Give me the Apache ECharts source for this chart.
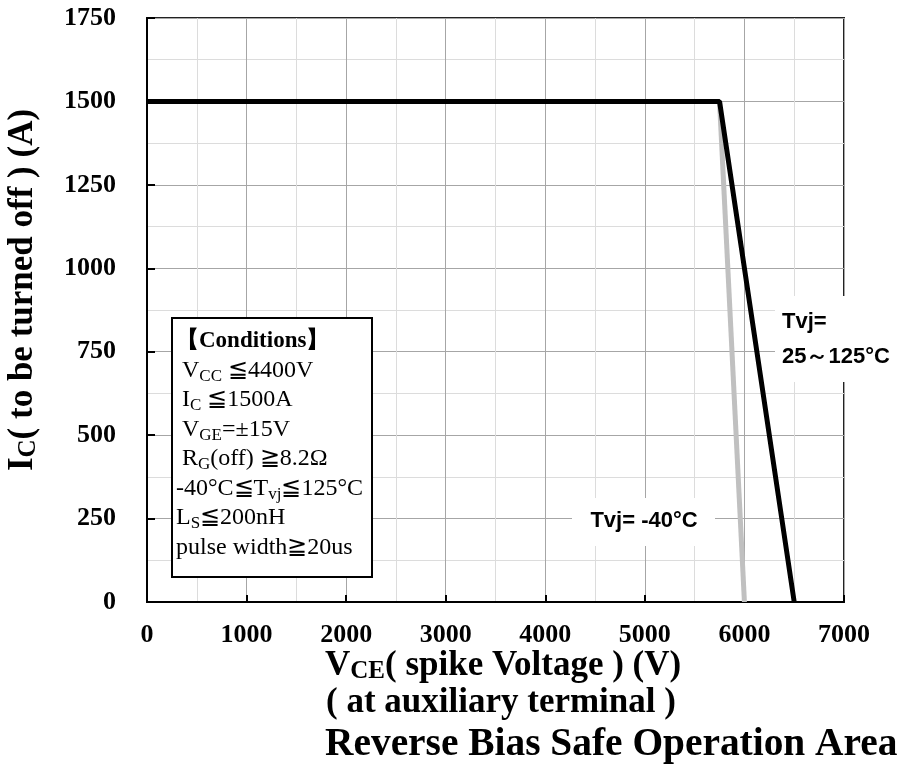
<!DOCTYPE html>
<html><head><meta charset="utf-8">
<script src="https://cdn.jsdelivr.net/npm/echarts@6/dist/echarts.min.js"></script>
<style>html,body{margin:0;padding:0;background:#fff}#c{width:899px;height:769px}</style>
</head><body><div id="c"></div>
<script>
// Data
const xTicks = [0,1000,2000,3000,4000,5000,6000,7000];
const yTicks = [0,250,500,750,1000,1250,1500,1750];
const hotV = [0, 5750, 6500];      // Tvj = 25~125 C
const hotI = [1500, 1500, 0];
const coldV = [5750, 6000];        // Tvj = -40 C
const coldI = [1500, 0];
const conditions = [
  '{b|【Conditions】}',
  ' V{s|CC} ≦4400V',
  ' I{s|C} ≦1500A',
  ' V{s|GE}=±15V',
  ' R{s|G}(off) ≧8.2Ω',
  '-40°C≦T{s|vj}≦125°C',
  'L{s|S}≦200nH',
  'pulse width≧20us'
];

const serif = '"Liberation Serif","Times New Roman",serif';
const sans = '"Liberation Sans",Arial,sans-serif';
const chart = echarts.init(document.getElementById('c'));
const L = 147, R = 844, T = 18, B = 602;

chart.setOption({
  animation: false,
  grid: {left: L, right: 899 - R, top: T, bottom: 769 - B, show: true, borderColor: '#222', borderWidth: 2, backgroundColor: '#fff'},
  xAxis: {
    type: 'value', min: xTicks[0], max: xTicks[xTicks.length-1], interval: 1000,
    axisLine: {show: true, lineStyle: {color: '#000', width: 2}},
    axisTick: {show: true, inside: true, length: 7, lineStyle: {color: '#000', width: 2}},
    minorTick: {show: false, splitNumber: 2},
    axisLabel: {color: '#000', fontFamily: serif, fontWeight: 'bold', fontSize: 26, margin: 20, formatter: v => String(v)},
    splitLine: {show: true, lineStyle: {color: '#a6a6a6', width: 1}},
    minorSplitLine: {show: true, lineStyle: {color: '#dcdcdc', width: 1}}
  },
  yAxis: {
    type: 'value', min: yTicks[0], max: yTicks[yTicks.length-1], interval: 250,
    axisLine: {show: true, lineStyle: {color: '#000', width: 2}},
    axisTick: {show: true, inside: true, length: 8, lineStyle: {color: '#000', width: 2}},
    minorTick: {show: false, splitNumber: 2},
    axisLabel: {color: '#000', fontFamily: serif, fontWeight: 'bold', fontSize: 26, margin: 31, formatter: v => String(v)},
    splitLine: {show: true, lineStyle: {color: '#a6a6a6', width: 1}},
    minorSplitLine: {show: true, lineStyle: {color: '#dcdcdc', width: 1}}
  },
  series: [
    {type: 'line', name: 'Tvj=-40', data: coldV.map((v,i)=>[v, coldI[i]]), symbol: 'none', z: 3,
     lineStyle: {color: '#c0c0c0', width: 5}},
    {type: 'line', name: 'Tvj=25~125', data: hotV.map((v,i)=>[v, hotI[i]]), symbol: 'none', z: 4,
     lineStyle: {color: '#000', width: 5}}
  ],
  graphic: [
    // conditions box
    {type: 'rect', z: 100, shape: {x: 172, y: 318, width: 200, height: 259},
     style: {fill: '#fff', stroke: '#000', lineWidth: 2}},
    {type: 'text', z: 101, left: 176, top: 326,
     style: {text: conditions.join('\n'), fontFamily: serif, fontSize: 24, fill: '#000', lineHeight: 29.5,
       rich: {
         b: {fontFamily: serif, fontSize: 23, fontWeight: 'bold', lineHeight: 29.5},
         s: {fontFamily: serif, fontSize: 17, lineHeight: 26, verticalAlign: 'bottom'}
       }}},
    // -40 label
    {type: 'rect', z: 100, shape: {x: 572, y: 498, width: 143, height: 48}, style: {fill: '#fff'}},
    {type: 'text', z: 101, x: 644, y: 521,
     style: {text: 'Tvj= -40°C', fontFamily: sans, fontWeight: 'bold', fontSize: 22, fill: '#000', align: 'center', verticalAlign: 'middle'}},
    // hot label
    {type: 'rect', z: 100, shape: {x: 775, y: 296, width: 124, height: 86}, style: {fill: '#fff'}},
    {type: 'text', z: 101, x: 782, y: 339,
     style: {text: 'Tvj=\n25～125°C', fontFamily: sans, fontWeight: 'bold', fontSize: 22, fill: '#000', lineHeight: 35, align: 'left', verticalAlign: 'middle'}},
    // y title
    {type: 'text', z: 101, x: 23, y: 290, rotation: Math.PI/2,
     style: {text: 'I{s|C}( to be turned off ) (A)', fontFamily: serif, fontWeight: 'bold', fontSize: 35, fill: '#000', align: 'center', verticalAlign: 'middle',
       rich: {s: {fontFamily: serif, fontWeight: 'bold', fontSize: 25, verticalAlign: 'bottom', lineHeight: 36}}}},
    // x titles
    {type: 'text', z: 101, x: 325, y: 666,
     style: {text: 'V{s|CE}( spike Voltage ) (V)', fontFamily: serif, fontWeight: 'bold', fontSize: 35, fill: '#000', align: 'left', verticalAlign: 'middle',
       rich: {s: {fontFamily: serif, fontWeight: 'bold', fontSize: 25, verticalAlign: 'bottom', lineHeight: 36}}}},
    {type: 'text', z: 101, x: 326, y: 703,
     style: {text: '( at auxiliary terminal )', fontFamily: serif, fontWeight: 'bold', fontSize: 35, fill: '#000', align: 'left', verticalAlign: 'middle'}},
    {type: 'text', z: 101, x: 325, y: 745,
     style: {text: 'Reverse Bias Safe Operation Area', fontFamily: serif, fontWeight: 'bold', fontSize: 39.4, fill: '#000', align: 'left', verticalAlign: 'middle'}}
  ]
});
</script></body></html>
